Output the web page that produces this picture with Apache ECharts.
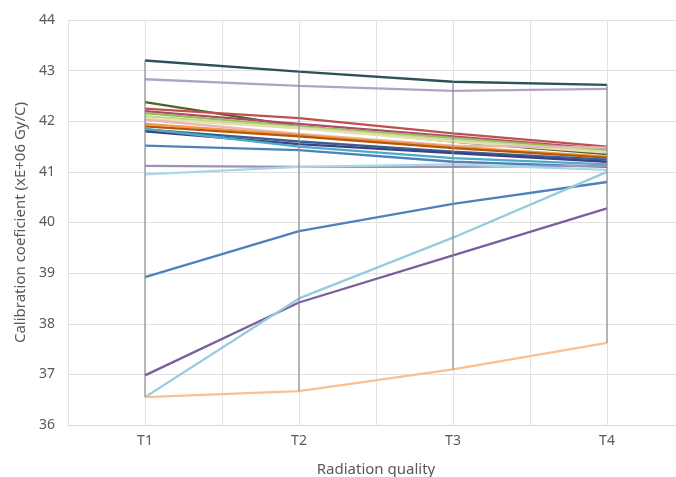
<!DOCTYPE html>
<html>
<head>
<meta charset="utf-8">
<script src="https://cdn.jsdelivr.net/npm/echarts@6/dist/echarts.min.js"></script>
<style>html,body{margin:0;padding:0;background:#fff}#c{width:676px;height:477px}</style>
</head>
<body>
<div id="c"></div>
<script>
const categories = ['T1', 'T2', 'T3', 'T4'];
const yTicks = [36, 37, 38, 39, 40, 41, 42, 43, 44];

const s01 = [43.20, 42.98, 42.78, 42.72];
const s02 = [42.83, 42.70, 42.60, 42.64];
const s03 = [42.38, 41.90, 41.60, 41.35];
const s04 = [42.25, 42.06, 41.76, 41.50];
const s05 = [42.20, 41.95, 41.70, 41.45];
const s06 = [42.16, 41.90, 41.67, 41.43];
const s07 = [42.10, 41.88, 41.63, 41.40];
const s08 = [42.05, 41.86, 41.60, 41.38];
const s09 = [42.03, 41.75, 41.52, 41.48];
const s10 = [41.95, 41.73, 41.50, 41.30];
const s11 = [41.90, 41.70, 41.47, 41.28];
const s12 = [41.84, 41.60, 41.40, 41.24];
const s13 = [41.80, 41.55, 41.37, 41.20];
const s14 = [41.85, 41.50, 41.27, 41.15];
const s15 = [41.52, 41.43, 41.20, 41.10];
const s16 = [41.12, 41.10, 41.10, 41.12];
const s17 = [40.95, 41.10, 41.15, 41.04];
const s18 = [38.92, 39.83, 40.37, 40.80];
const s19 = [36.98, 38.42, 39.35, 40.28];
const s20 = [36.55, 38.50, 39.70, 41.00];
const s21 = [36.55, 36.67, 37.10, 37.62];

const allSeries = [s01,s02,s03,s04,s05,s06,s07,s08,s09,s10,s11,s12,s13,s14,s15,s16,s17,s18,s19,s20,s21];
const colors = ['#2B5257','#B3A2C7','#4F6228','#C0504D','#B04A6A','#9BBB59','#C3D69B','#E3E0A8','#E6B9B8',
  '#F79646','#B65708','#376092','#3B3F86','#4BACC6','#4F81BD','#9D93B8','#A9D7E3','#4F81BD','#7A5F9E','#93CDDD','#FAC090'];

const hiLo = categories.map((c, i) => {
  const vals = allSeries.map(s => s[i]);
  return [i, Math.min(...vals), Math.max(...vals)];
});

const series = allSeries.map((d, k) => ({
  type: 'line', data: d, xAxisIndex: 0, yAxisIndex: 0,
  showSymbol: false, symbol: 'none',
  lineStyle: { width: 2.3, color: colors[k] }, itemStyle: { color: colors[k] },
  z: 3, animation: false
}));
series.push({
  type: 'custom', xAxisIndex: 0, yAxisIndex: 0, data: hiLo, z: 4, animation: false,
  renderItem: (params, api) => {
    const p1 = api.coord([api.value(0), api.value(1)]);
    const p2 = api.coord([api.value(0), api.value(2)]);
    return { type: 'line', shape: { x1: p1[0], y1: p1[1], x2: p2[0], y2: p2[1] },
      style: { stroke: '#8C8C8C', lineWidth: 1.2 } };
  }
});

const chart = echarts.init(document.getElementById('c'), null, { renderer: 'canvas' });
chart.setOption({
  backgroundColor: '#fff',
  animation: false,
  grid: { left: 68, width: 616, top: 20, height: 405, outerBoundsMode: 'none', containLabel: false },
  xAxis: [{
    type: 'category', data: categories, boundaryGap: true,
    axisLine: { show: true, lineStyle: { color: '#D9D9D9', width: 1 } },
    axisTick: { show: false },
    splitLine: { show: false },
    axisLabel: { color: '#595959', fontSize: 14, fontFamily: 'Noto Sans', margin: 9 },
    name: 'Radiation quality', nameLocation: 'middle', nameGap: 37,
    nameTextStyle: { color: '#595959', fontSize: 15, fontFamily: 'Noto Sans' }
  }, {
    type: 'value', min: -0.5, max: 3.5, interval: 0.5, position: 'bottom',
    axisLine: { show: false }, axisTick: { show: false }, axisLabel: { show: false },
    splitLine: { show: true, lineStyle: { color: '#E3E3E3', width: 1 } }
  }],
  yAxis: {
    type: 'value', min: yTicks[0], max: yTicks[yTicks.length - 1], interval: 1,
    axisLine: { show: false }, axisTick: { show: false },
    splitLine: { show: true, lineStyle: { color: '#E0E0E0', width: 1 } },
    axisLabel: { color: '#595959', fontSize: 14, fontFamily: 'Noto Sans', margin: 13 },
    name: 'Calibration coeficient (xE+06 Gy/C)', nameLocation: 'middle', nameGap: 40,
    nameTextStyle: { color: '#595959', fontSize: 15, fontFamily: 'Noto Sans' }
  },
  series: series
});
</script>
</body>
</html>
